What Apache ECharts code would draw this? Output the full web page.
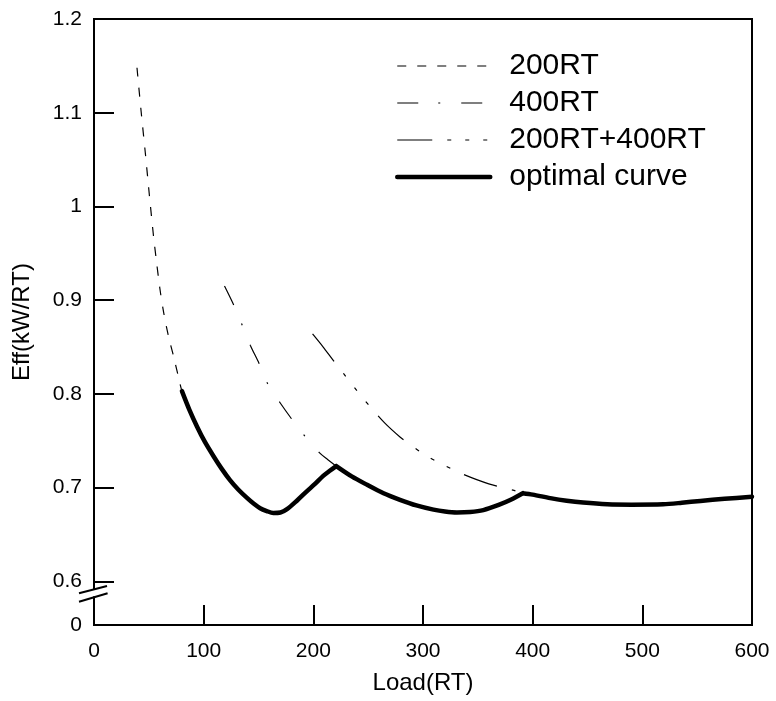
<!DOCTYPE html>
<html>
<head>
<meta charset="utf-8">
<script src="https://cdn.jsdelivr.net/npm/echarts@6/dist/echarts.min.js"></script>
<style>
html,body{margin:0;padding:0;background:#fff;}
#c{width:776px;height:701px;}
</style>
</head>
<body>
<div id="c"></div>
<script>
// ---- data ----
const seriesNames = ['200RT', '400RT', '200RT+400RT', 'optimal curve'];

const load200 = [39.2, 43, 46.8, 50.5, 54.3, 56.8, 60, 63.5, 68, 72.6, 76.5, 80.2, 87, 94, 101, 109, 116.5, 124, 131.5, 139.5, 145.5, 151.5, 157.5, 163.5, 170, 176, 185, 194, 201.5, 209, 215, 220.9];
const eff200  = [1.148, 1.101, 1.057, 1.012, 0.968, 0.943, 0.913, 0.887, 0.861, 0.840, 0.8205, 0.803, 0.783, 0.765, 0.749, 0.7335, 0.720, 0.708, 0.698, 0.689, 0.683, 0.678, 0.675, 0.673, 0.6735, 0.677, 0.686, 0.696, 0.704, 0.7125, 0.718, 0.723];

const load400 = [119, 127.3, 134.9, 142.5, 150.7, 158.3, 170, 181, 192.9, 205.7, 213, 220.9, 235, 249, 264, 279, 294, 309.6, 320, 331, 343, 355, 369, 380, 391];
const eff400  = [0.915, 0.895, 0.874, 0.852, 0.832, 0.811, 0.790, 0.772, 0.754, 0.737, 0.730, 0.723, 0.712, 0.703, 0.694, 0.687, 0.681, 0.6765, 0.6745, 0.6735, 0.674, 0.676, 0.6815, 0.687, 0.694];

const loadBoth = [199.3, 209, 218, 228, 240, 252, 265, 279, 288, 303, 319, 337, 360, 383, 391, 400, 416, 431, 446, 468, 490, 519, 536, 553, 575, 600];
const effBoth  = [0.864, 0.850, 0.836, 0.821, 0.803, 0.786, 0.769, 0.754, 0.746, 0.734, 0.724, 0.714, 0.704, 0.697, 0.694, 0.6925, 0.6888, 0.686, 0.684, 0.6822, 0.6818, 0.6822, 0.6838, 0.6858, 0.688, 0.6903];

const loadOpt = [80.2, 87, 94, 101, 109, 116.5, 124, 131.5, 139.5, 145.5, 151.5, 157.5, 163.5, 170, 176, 185, 194, 201.5, 209, 215, 220.9, 235, 249, 264, 279, 294, 309.6, 320, 331, 343, 355, 369, 380, 391, 400, 416, 431, 446, 468, 490, 519, 536, 553, 575, 600];
const effOpt  = [0.803, 0.783, 0.765, 0.749, 0.7335, 0.720, 0.708, 0.698, 0.689, 0.683, 0.678, 0.675, 0.673, 0.6735, 0.677, 0.686, 0.696, 0.704, 0.7125, 0.718, 0.723, 0.712, 0.703, 0.694, 0.687, 0.681, 0.6765, 0.6745, 0.6735, 0.674, 0.676, 0.6815, 0.687, 0.694, 0.6925, 0.6888, 0.686, 0.684, 0.6822, 0.6818, 0.6822, 0.6838, 0.6858, 0.688, 0.6903];
// loads where the optimal curve switches chiller combination (sharp corners)
const optSwitchLoads = [220.9, 391];

const xTickValues = [0, 100, 200, 300, 400, 500, 600];
const yTickValues = [0.6, 0.7, 0.8, 0.9, 1.0, 1.1, 1.2];
const yTickLabels = ['0.6', '0.7', '0.8', '0.9', '1', '1.1', '1.2'];
const yBreakLabel = '0';

// ---- layout ----
const yAxisBottom = 0.5534; // broken-axis bottom, labelled "0"
const FONT = "'Liberation Sans', Arial, sans-serif";

function zip(xs, ys) { return xs.map((x, i) => [x, ys[i]]); }
function zipWithCorners(xs, ys, corners) {
  const out = [];
  xs.forEach((x, i) => {
    out.push([x, ys[i]]);
    if (corners.includes(x)) { out.push([x, '-']); out.push([x, ys[i]]); }
  });
  return out;
}

const chart = echarts.init(document.getElementById('c'));
const allYTicks = [yAxisBottom].concat(yTickValues);

const option = {
  backgroundColor: '#fff',
  animation: false,
  grid: {
    left: 94, right: 24, top: 19, bottom: 76,
    show: true, borderColor: '#000', borderWidth: 2, backgroundColor: 'transparent'
  },
  legend: {
    orient: 'vertical',
    left: 395, top: 51, padding: 0,
    itemWidth: 93, itemHeight: 14, itemGap: 7,
    itemStyle: { opacity: 0 },
    textStyle: { fontSize: 30, color: '#000', fontFamily: FONT, padding: [0, 0, 0, 14] },
    data: [
      { name: seriesNames[0], lineStyle: { width: 1.2 } },
      { name: seriesNames[1], lineStyle: { width: 1.2 } },
      { name: seriesNames[2], lineStyle: { width: 1.2 } },
      { name: seriesNames[3], lineStyle: { width: 4.5 } }
    ]
  },
  xAxis: {
    type: 'value', min: 0, max: 600, interval: 100,
    axisLine: { lineStyle: { color: '#000', width: 2 } },
    axisTick: { inside: true, length: 20, lineStyle: { color: '#000', width: 2 } },
    axisLabel: { fontSize: 21, color: '#000', margin: 16, fontFamily: FONT,
                 formatter: v => xTickValues.includes(v) ? String(v) : '' },
    splitLine: { show: false },
    name: 'Load(RT)', nameLocation: 'middle', nameGap: 46,
    nameTextStyle: { fontSize: 24, color: '#000', fontFamily: FONT }
  },
  yAxis: {
    type: 'value', min: yAxisBottom, max: 1.2,
    axisLine: { lineStyle: { color: '#000', width: 2 } },
    axisTick: { inside: true, length: 20, lineStyle: { color: '#000', width: 2 }, customValues: allYTicks },
    axisLabel: {
      fontSize: 21, color: '#000', margin: 12, fontFamily: FONT, customValues: allYTicks,
      formatter: v => {
        if (v < 0.59) return yBreakLabel;
        const i = yTickValues.findIndex(t => Math.abs(t - v) < 1e-6);
        return i >= 0 ? yTickLabels[i] : '';
      }
    },
    splitLine: { show: false },
    name: 'Eff(kW/RT)', nameLocation: 'middle', nameGap: 60,
    nameTextStyle: { fontSize: 24, color: '#000', fontFamily: FONT }
  },
  series: [
    { name: seriesNames[0], type: 'line', data: zip(load200, eff200), symbol: 'none', z: 2, smooth: 0.3, color: '#000',
      lineStyle: { color: '#000', width: 1.2, type: [9, 11] } },
    { name: seriesNames[1], type: 'line', data: zip(load400, eff400), symbol: 'none', z: 2, smooth: 0.3, color: '#000',
      lineStyle: { color: '#000', width: 1.2, type: [21, 20, 2, 21] } },
    { name: seriesNames[2], type: 'line', data: zip(loadBoth, effBoth), symbol: 'none', z: 2, smooth: 0.3, color: '#000',
      lineStyle: { color: '#000', width: 1.2, type: [35, 15, 4, 14, 4, 14, 4, 15] } },
    { name: seriesNames[3], type: 'line', data: zipWithCorners(loadOpt, effOpt, optSwitchLoads), symbol: 'none', z: 3,
      smooth: 0.3, connectNulls: false, color: '#000',
      lineStyle: { color: '#000', width: 4.5, cap: 'round', join: 'round' } }
  ]
};

chart.setOption(option);

// broken-axis marker
const x0 = chart.convertToPixel({ xAxisIndex: 0 }, 0);
const y06 = chart.convertToPixel({ yAxisIndex: 0 }, 0.6);
chart.setOption({
  graphic: [
    { type: 'rect', z: 100, shape: { x: x0 - 4, y: y06 + 8, width: 8, height: 7 }, style: { fill: '#fff' } },
    { type: 'line', z: 101, shape: { x1: x0 - 15, y1: y06 + 12, x2: x0 + 13, y2: y06 + 4.7 }, style: { stroke: '#000', lineWidth: 2 } },
    { type: 'line', z: 101, shape: { x1: x0 - 15, y1: y06 + 20.4, x2: x0 + 13.6, y2: y06 + 12 }, style: { stroke: '#000', lineWidth: 2 } }
  ]
});
</script>
</body>
</html>
